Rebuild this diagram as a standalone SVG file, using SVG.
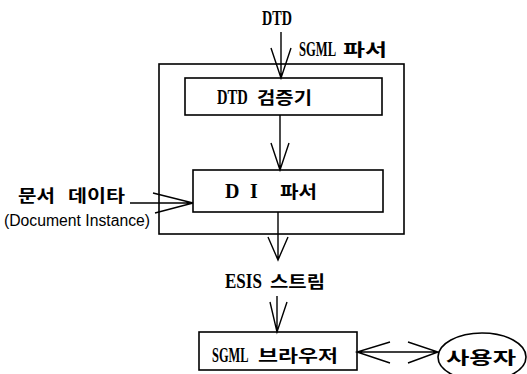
<svg xmlns="http://www.w3.org/2000/svg" width="527" height="374" viewBox="0 0 527 374">
<style>
.box{fill:#fff;stroke:#000;stroke-width:1.6}
.ln{fill:none;stroke:#000;stroke-width:1.4}
.t{font-family:"Liberation Serif","Noto Sans CJK KR",serif;font-weight:bold;font-size:20px;fill:#000}
.k{font-family:"Noto Sans CJK KR",sans-serif;font-weight:bold;font-size:17px;fill:#000}
.s{font-family:"Liberation Sans","Noto Sans CJK KR",sans-serif;font-size:16px;fill:#000}
</style>
<rect width="527" height="374" fill="#fff"/>
<g id="parser">
<rect class="box" x="159" y="64" width="245" height="170"/>
<text transform="translate(299,56) scale(0.63,1)" class="t">SGML</text>
<text x="343" y="56" class="k" textLength="44" lengthAdjust="spacingAndGlyphs">파서</text>
</g>
<g id="dtdcheck">
<rect class="box" x="185" y="78" width="197" height="37"/>
<text transform="translate(217,104) scale(0.73,1)" class="t">DTD</text>
<text x="257" y="104" class="k" textLength="55" lengthAdjust="spacingAndGlyphs">검증기</text>
</g>
<g id="diparser">
<rect class="box" x="193" y="170" width="190" height="42"/>
<text x="225" y="198" class="t">D</text>
<text x="250" y="198" class="t">I</text>
<text x="280" y="198" class="k" textLength="37" lengthAdjust="spacingAndGlyphs">파서</text>
</g>
<g id="browser">
<rect class="box" x="199" y="332" width="158" height="38"/>
<text transform="translate(212,362) scale(0.62,1)" class="t">SGML</text>
<text x="258" y="362" class="k" textLength="80" lengthAdjust="spacingAndGlyphs">브라우저</text>
</g>
<g id="user">
<ellipse class="box" cx="482" cy="357" rx="44" ry="24"/>
<text x="446" y="364" class="k" textLength="70" lengthAdjust="spacingAndGlyphs">사용자</text>
</g>
<g id="labels">
<text transform="translate(262,25) scale(0.71,1)" class="t">DTD</text>
<text x="18" y="202" class="k" textLength="37" lengthAdjust="spacingAndGlyphs">문서</text>
<text x="68" y="202" class="k" textLength="57" lengthAdjust="spacingAndGlyphs">데이타</text>
<text x="4" y="226" class="s" textLength="146" lengthAdjust="spacingAndGlyphs">(Document Instance)</text>
<text transform="translate(225,288) scale(0.85,1)" class="t">ESIS</text>
<text x="270" y="288" class="k" textLength="55" lengthAdjust="spacingAndGlyphs">스트림</text>
</g>
<g id="connectors" class="ln">
<path d="M281 32V78M271 48L281 78L291 48"/>
<path d="M280 115V170M271 143L280 170L289 143"/>
<path d="M278 212V260M268 237L278 260L288 237"/>
<path d="M277 296V332M270 302L277 332L287 302"/>
<path d="M130 203H193M153 193L193 203L155 213"/>
<path d="M357 352H438M390 342L357 352L390 363M408 342L438 352L408 363"/>
</g>
</svg>
